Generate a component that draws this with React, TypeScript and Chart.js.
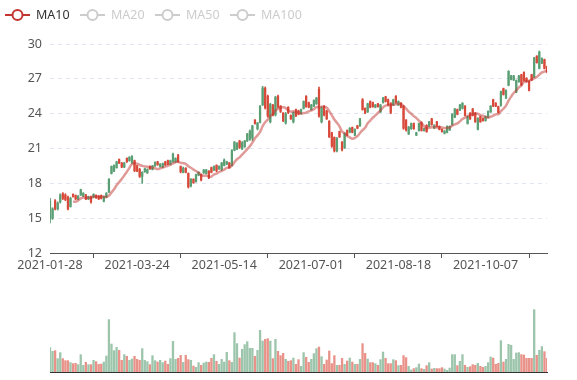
import React, { useEffect, useRef } from "react";
import { Chart, registerables } from "chart.js";

Chart.register(...registerables);

// ---------- data ----------
const FIRST_DATE = "2021-01-28";
const TRADING_DAYS = 195;
const MARKET_HOLIDAYS = [
  "2021-02-11", "2021-02-12", "2021-02-15", "2021-02-16", "2021-02-17",
  "2021-05-03", "2021-05-04", "2021-05-05", "2021-09-20", "2021-09-21",
];
const LABEL_EVERY = 34;

const OPEN = [
  14.9, 15.0, 16.5, 15.8, 16.4, 17.1, 17.0, 16.8, 16.0, 17.05,
  16.95, 16.65, 17.0, 16.9, 17.0, 16.65, 16.85, 16.8, 16.95, 16.9,
  16.95, 16.45, 16.8, 17.25, 18.85, 19.05, 19.35, 20.05, 19.75, 19.4,
  20.15, 19.95, 19.8, 19.95, 19.5, 19.2, 18.6, 19.0, 18.9, 19.45,
  19.2, 19.5, 19.85, 19.45, 19.4, 19.85, 19.95, 19.65, 19.9, 19.85,
  20.4, 19.45, 18.95, 19.3, 18.85, 17.8, 18.35, 18.15, 18.7, 18.75,
  18.9, 18.85, 19.05, 19.35, 19.15, 19.55, 19.25, 19.2, 19.55, 19.65,
  19.75, 19.55, 20.85, 20.95, 21.65, 21.0, 21.15, 21.65, 21.8, 21.9,
  23.45, 22.7, 23.25, 24.75, 26.2, 25.5, 23.3, 24.7, 23.9, 25.5,
  24.65, 24.05, 23.2, 24.55, 23.85, 23.3, 24.35, 24.25, 24.0, 24.45,
  25.5, 24.95, 24.35, 24.65, 24.85, 26.1, 23.3, 24.6, 24.2, 23.35,
  22.35, 21.95, 20.8, 22.45, 21.55, 21.05, 22.55, 22.4, 22.8, 22.15,
  22.95, 22.95, 25.2, 24.45, 24.15, 25.05, 24.95, 24.55, 24.85, 24.15,
  24.95, 25.45, 25.2, 24.9, 24.75, 25.5, 24.75, 24.9, 24.65, 23.45,
  22.25, 22.7, 23.15, 22.15, 22.55, 23.25, 22.55, 23.0, 22.9, 23.55,
  22.75, 23.3, 22.9, 22.65, 22.3, 22.4, 22.6, 23.05, 23.7, 24.35,
  24.3, 24.45, 24.65, 23.15, 24.05, 24.4, 24.05, 22.65, 23.75, 23.6,
  23.4, 23.7, 24.15, 25.2, 24.9, 24.6, 24.7, 26.15, 25.35, 26.45,
  26.95, 26.9, 25.85, 26.75, 27.35, 27.55, 27.05, 26.8, 27.35, 27.15,
  28.95, 27.9, 28.35, 28.65, 28.05,
];
const CLOSE = [
  16.5, 15.8, 15.8, 16.3, 17.0, 16.7, 16.6, 15.8, 16.7, 16.85,
  16.65, 16.9, 17.45, 17.15, 16.65, 16.85, 16.4, 17.05, 16.75, 16.65,
  16.7, 16.85, 17.15, 18.35, 19.45, 19.55, 19.85, 19.75, 19.4, 19.75,
  19.85, 20.25, 20.3, 19.1, 19.05, 18.6, 18.95, 19.25, 19.2, 19.25,
  19.5, 19.8, 19.6, 19.65, 19.7, 19.6, 19.65, 19.95, 20.5, 20.15,
  19.9, 19.0, 19.3, 18.95, 17.7, 18.35, 18.05, 18.75, 18.95, 18.3,
  19.15, 19.15, 18.5, 18.95, 19.45, 19.1, 19.45, 19.75, 20.0, 19.85,
  19.35, 20.8, 21.55, 21.45, 21.1, 21.5, 21.65, 22.25, 22.5, 22.95,
  23.15, 23.2, 24.65, 26.2, 24.5, 23.8, 24.8, 23.9, 25.4, 24.6,
  24.2, 23.4, 24.0, 24.1, 23.55, 24.1, 23.8, 23.95, 24.35, 25.05,
  24.6, 24.55, 24.75, 25.15, 25.35, 23.8, 24.5, 23.9, 23.55, 22.0,
  21.2, 20.8, 21.9, 22.0, 20.9, 22.3, 22.15, 22.75, 22.4, 22.65,
  22.75, 23.55, 24.35, 24.05, 24.85, 24.55, 24.6, 24.75, 24.6, 24.75,
  25.35, 25.05, 24.75, 24.1, 25.2, 24.95, 25.05, 24.55, 22.75, 22.6,
  22.85, 23.15, 22.7, 22.35, 23.15, 22.55, 22.7, 22.45, 23.3, 23.05,
  23.0, 22.9, 22.65, 22.45, 22.5, 22.9, 22.9, 23.95, 24.4, 23.95,
  24.75, 24.9, 23.85, 23.75, 23.55, 23.85, 23.3, 23.6, 23.3, 23.4,
  23.75, 24.2, 24.65, 24.65, 24.65, 24.1, 25.9, 25.65, 26.0, 27.65,
  27.25, 27.25, 26.85, 27.25, 26.5, 26.85, 26.75, 26.0, 26.9, 28.8,
  28.4, 29.3, 28.75, 27.9, 27.6,
];
const LOW = [
  14.6, 14.9, 15.7, 15.7, 16.3, 16.6, 16.5, 15.7, 15.95, 16.8,
  16.6, 16.6, 16.95, 16.85, 16.6, 16.6, 16.3, 16.75, 16.7, 16.6,
  16.65, 16.4, 16.75, 17.2, 18.8, 19.0, 19.3, 19.7, 19.35, 19.35,
  19.8, 19.9, 19.7, 19.0, 19.0, 18.5, 18.0, 18.95, 18.85, 19.2,
  19.15, 19.45, 19.55, 19.4, 19.35, 19.55, 19.6, 19.6, 19.8, 19.8,
  19.8, 18.9, 18.9, 18.9, 17.6, 17.7, 18.0, 18.1, 18.65, 18.2,
  18.85, 18.8, 18.4, 18.9, 19.1, 19.0, 19.2, 19.1, 19.5, 19.6,
  19.3, 19.5, 20.8, 20.9, 21.0, 20.9, 21.1, 21.6, 21.7, 21.7,
  23.1, 22.6, 23.2, 24.7, 24.4, 23.7, 23.2, 23.8, 23.8, 24.5,
  24.1, 23.3, 23.1, 24.0, 23.5, 23.2, 23.75, 23.9, 23.95, 24.4,
  24.55, 24.5, 24.3, 24.6, 24.8, 23.7, 23.2, 23.8, 23.5, 21.95,
  21.1, 20.7, 20.7, 21.95, 20.8, 21.0, 22.1, 22.35, 22.35, 22.1,
  22.7, 22.9, 24.3, 24.0, 24.1, 24.5, 24.55, 24.5, 24.55, 24.1,
  24.9, 25.0, 24.7, 24.0, 24.7, 24.9, 24.7, 24.5, 22.65, 22.5,
  22.2, 22.65, 22.65, 22.1, 22.5, 22.5, 22.5, 22.4, 22.85, 23.0,
  22.7, 22.85, 22.6, 22.4, 22.25, 22.35, 22.55, 23.0, 23.65, 23.9,
  24.25, 24.4, 23.8, 23.1, 23.5, 23.8, 23.25, 22.6, 23.25, 23.35,
  23.35, 23.65, 24.1, 24.6, 24.6, 24.05, 24.65, 25.6, 25.3, 26.4,
  26.9, 26.85, 25.8, 26.7, 26.4, 26.8, 26.7, 25.95, 26.85, 27.1,
  28.35, 27.85, 28.3, 27.85, 27.5,
];
const HIGH = [
  16.7, 15.9, 16.6, 16.4, 17.1, 17.2, 17.1, 16.9, 16.8, 17.1,
  17.0, 16.95, 17.5, 17.2, 17.05, 16.9, 16.9, 17.1, 17.0, 16.95,
  17.0, 16.9, 17.2, 18.4, 19.5, 19.6, 19.9, 20.1, 19.8, 19.8,
  20.2, 20.3, 20.4, 20.0, 19.55, 19.3, 19.0, 19.3, 19.25, 19.5,
  19.55, 19.85, 19.9, 19.7, 19.75, 19.9, 20.0, 20.0, 20.6, 20.2,
  20.5, 19.5, 19.4, 19.35, 18.9, 18.4, 18.4, 18.8, 19.0, 18.8,
  19.2, 19.2, 19.1, 19.4, 19.5, 19.6, 19.5, 19.8, 20.1, 19.9,
  19.8, 20.9, 21.6, 21.5, 21.7, 21.6, 21.7, 22.3, 22.6, 23.0,
  23.5, 23.25, 24.7, 26.35, 26.3, 25.6, 24.9, 24.8, 25.5, 25.6,
  24.7, 24.1, 24.1, 24.6, 23.9, 24.15, 24.4, 24.3, 24.4, 25.1,
  25.55, 25.0, 24.8, 25.2, 25.4, 26.3, 24.6, 24.7, 24.3, 23.4,
  22.4, 22.0, 21.95, 22.5, 21.6, 22.35, 22.6, 22.8, 22.85, 22.7,
  23.0, 23.6, 25.3, 24.5, 24.9, 25.1, 25.0, 24.8, 24.9, 24.8,
  25.4, 25.5, 25.25, 24.95, 25.25, 25.55, 25.1, 24.95, 24.7, 23.5,
  22.9, 23.2, 23.2, 22.4, 23.2, 23.3, 22.75, 23.05, 23.35, 23.6,
  23.05, 23.35, 22.95, 22.7, 22.55, 22.95, 22.95, 24.0, 24.45, 24.4,
  24.8, 24.95, 24.7, 23.8, 24.1, 24.45, 24.1, 23.65, 23.8, 23.65,
  23.8, 24.25, 24.7, 25.25, 24.95, 24.65, 25.95, 26.2, 26.05, 27.7,
  27.3, 27.3, 26.9, 27.3, 27.4, 27.6, 27.1, 26.85, 27.4, 28.85,
  29.0, 29.4, 28.8, 28.7, 28.1,
];
// volume, millions
const VOLUME = [
  2.47, 2.10, 2.17, 1.37, 1.97, 1.37, 1.17, 1.17, 0.97, 0.87,
  0.90, 0.77, 1.77, 0.70, 1.00, 0.77, 0.77, 1.20, 1.07, 0.80,
  0.83, 1.03, 1.63, 5.27, 2.83, 2.17, 2.50, 2.20, 1.20, 1.77,
  1.60, 1.20, 1.33, 1.60, 1.30, 1.20, 2.37, 1.20, 1.07, 0.77,
  1.67, 1.17, 1.03, 1.20, 0.97, 1.13, 0.80, 1.37, 3.10, 1.30,
  1.40, 1.70, 1.00, 1.70, 1.27, 1.20, 0.63, 0.50, 0.97, 0.70,
  0.93, 1.03, 1.00, 1.40, 1.77, 1.10, 0.80, 1.30, 1.03, 2.00,
  1.17, 1.00, 3.97, 2.87, 1.43, 2.30, 2.77, 3.07, 2.40, 2.40,
  1.60, 2.20, 4.20, 3.13, 3.30, 3.37, 3.13, 1.37, 3.30, 2.10,
  1.67, 1.90, 1.30, 1.10, 1.17, 1.43, 0.80, 1.27, 0.60, 1.97,
  1.50, 1.00, 1.30, 1.87, 2.37, 2.53, 1.57, 0.80, 1.23, 2.13,
  0.87, 1.67, 0.70, 0.70, 1.40, 0.80, 1.13, 1.43, 1.03, 0.80,
  0.80, 1.30, 2.87, 1.90, 1.33, 0.97, 0.97, 0.87, 0.70, 1.27,
  2.03, 1.40, 0.87, 0.87, 1.27, 1.17, 0.67, 0.70, 1.67, 1.47,
  0.60, 0.23, 0.37, 0.47, 0.83, 0.37, 0.30, 0.67, 0.97, 0.33,
  0.40, 0.37, 0.37, 0.47, 0.33, 0.20, 0.43, 1.77, 1.77, 0.67,
  1.10, 1.77, 0.70, 0.50, 0.57, 0.77, 0.70, 0.90, 0.60, 0.50,
  0.60, 0.97, 1.53, 1.43, 0.80, 0.90, 3.17, 1.03, 1.30, 2.80,
  2.70, 1.30, 1.93, 1.97, 1.77, 1.73, 1.40, 1.40, 1.40, 6.27,
  1.70, 2.20, 2.57, 2.07, 1.40,
];
const Y_MIN = 12;
const Y_MAX = 30;
const Y_STEP = 3;
const VOLUME_MAX = 7.2;
const MA_PERIOD = 10;
const LEGEND_NAMES = ["MA10", "MA20", "MA50", "MA100"];
const LEGEND_ACTIVE = [true, false, false, false];

// ---------- styles ----------
const UP = "#5a9e74";
const DOWN = "#d8493a";
const UP_VOL = "rgba(90,158,116,0.6)";
const DOWN_VOL = "rgba(216,73,58,0.6)";
const MA_COLOR = "#c23531";
const MA_LINE = "rgba(194,53,49,0.5)";
const INACTIVE = "#cccccc";
const AXIS = "#555555";
const LABEL = "#555555";
const GRID = "#E0E6F1";
const FONT = '"Noto Sans", sans-serif';

function tradingDates(): string[] {
  const out: string[] = [];
  const d = new Date(FIRST_DATE + "T00:00:00Z");
  while (out.length < TRADING_DAYS) {
    const iso = d.toISOString().slice(0, 10);
    const wd = d.getUTCDay();
    if (wd !== 0 && wd !== 6 && !MARKET_HOLIDAYS.includes(iso)) out.push(iso);
    d.setUTCDate(d.getUTCDate() + 1);
  }
  return out;
}

function movingAverage(values: number[], n: number): (number | null)[] {
  return values.map((_, i) => {
    if (i < n - 1) return null;
    let s = 0;
    for (let k = i - n + 1; k <= i; k++) s += values[k];
    return +(s / n).toFixed(3);
  });
}

const legendPlugin = {
  id: "maLegend",
  afterDraw(chart: any) {
    const ctx = chart.ctx as CanvasRenderingContext2D;
    ctx.save();
    LEGEND_NAMES.forEach((name, k) => {
      const x0 = 5 + 75 * k;
      const y = 15;
      const active = LEGEND_ACTIVE[k];
      const c = active ? MA_COLOR : INACTIVE;
      ctx.strokeStyle = c;
      ctx.lineWidth = 2;
      ctx.beginPath();
      ctx.moveTo(x0, y);
      ctx.lineTo(x0 + 25, y);
      ctx.stroke();
      ctx.beginPath();
      ctx.arc(x0 + 12.5, y, 5, 0, Math.PI * 2);
      ctx.fillStyle = "#fff";
      ctx.fill();
      ctx.stroke();
      ctx.fillStyle = active ? "#333" : INACTIVE;
      ctx.font = `12.5px ${FONT}`;
      ctx.textBaseline = "middle";
      ctx.textAlign = "left";
      ctx.fillText(name, x0 + 31, y + 0.5);
    });
    ctx.restore();
  },
};

export default function App() {
  const mainRef = useRef<HTMLCanvasElement>(null);
  const volRef = useRef<HTMLCanvasElement>(null);

  useEffect(() => {
    const dates = tradingDates();
    const isUp = CLOSE.map((c, i) => c >= OPEN[i]);
    const candleColors = isUp.map((u) => (u ? UP : DOWN));
    const volColors = isUp.map((u) => (u ? UP_VOL : DOWN_VOL));
    const ma10 = movingAverage(CLOSE, MA_PERIOD);

    const main = new Chart(mainRef.current!, {
      type: "bar",
      data: {
        labels: dates,
        datasets: [
          {
            type: "line",
            label: "MA10",
            data: ma10 as any,
            borderColor: MA_LINE,
            borderWidth: 2.5,
            pointRadius: 0,
            tension: 0.4,
            fill: false,
            order: 0,
          } as any,
          {
            type: "bar",
            label: "wick",
            data: LOW.map((l, i) => [l, HIGH[i]]) as any,
            backgroundColor: candleColors,
            barThickness: 1,
            grouped: false,
            order: 2,
          } as any,
          {
            type: "bar",
            label: "body",
            data: OPEN.map((o, i) => [o, CLOSE[i]]) as any,
            backgroundColor: candleColors,
            barThickness: 1.6,
            minBarLength: 1,
            grouped: false,
            order: 1,
          } as any,
        ],
      },
      options: {
        animation: false,
        responsive: false,
        maintainAspectRatio: false,
        layout: { padding: { top: 44, right: 30, left: 0, bottom: 0 } },
        plugins: { legend: { display: false }, tooltip: { enabled: false } },
        scales: {
          x: {
            type: "category",
            offset: false,
            grid: { display: true, drawOnChartArea: false, drawTicks: true, tickLength: 5, color: AXIS },
            border: { display: true, color: AXIS, width: 1 },
            ticks: { autoSkip: false, maxRotation: 0, color: LABEL, font: { family: FONT, size: 12.5 }, padding: 0 },
            afterBuildTicks: (s: any) => {
              s.ticks = s.ticks.filter((t: any) => t.value % LABEL_EVERY === 0);
            },
            afterFit: (s: any) => {
              s.height = 37;
            },
          } as any,
          y: {
            min: Y_MIN,
            max: Y_MAX,
            ticks: { stepSize: Y_STEP, color: LABEL, font: { family: FONT, size: 12.5 }, padding: 8 },
            grid: { color: GRID, drawTicks: false },
            border: { display: false, dash: [4, 4] },
            afterFit: (s: any) => {
              s.width = 50;
            },
          } as any,
        },
      },
      plugins: [legendPlugin],
    });

    const vol = new Chart(volRef.current!, {
      type: "bar",
      data: {
        labels: dates,
        datasets: [
          {
            label: "Volume",
            data: VOLUME,
            backgroundColor: volColors,
            barPercentage: 0.9,
            categoryPercentage: 1,
          },
        ],
      },
      options: {
        animation: false,
        responsive: false,
        maintainAspectRatio: false,
        layout: { padding: { top: 10, right: 30, left: 50, bottom: 8 } },
        plugins: { legend: { display: false }, tooltip: { enabled: false } },
        scales: {
          x: {
            type: "category",
            offset: false,
            grid: { display: false },
            border: { display: true, color: "#333333", width: 1 },
            ticks: { display: false },
            afterFit: (s: any) => {
              s.height = 0;
            },
          } as any,
          y: { display: false, min: 0, max: VOLUME_MAX },
        },
      },
    });

    return () => {
      main.destroy();
      vol.destroy();
    };
  }, []);

  return (
    <div style={{ position: "fixed", left: 0, top: 0, width: 577, height: 380, background: "#fff" }}>
      <canvas ref={mainRef} width={577} height={290} style={{ position: "absolute", left: 0, top: 0 }} />
      <canvas ref={volRef} width={577} height={90} style={{ position: "absolute", left: 0, top: 290 }} />
    </div>
  );
}
